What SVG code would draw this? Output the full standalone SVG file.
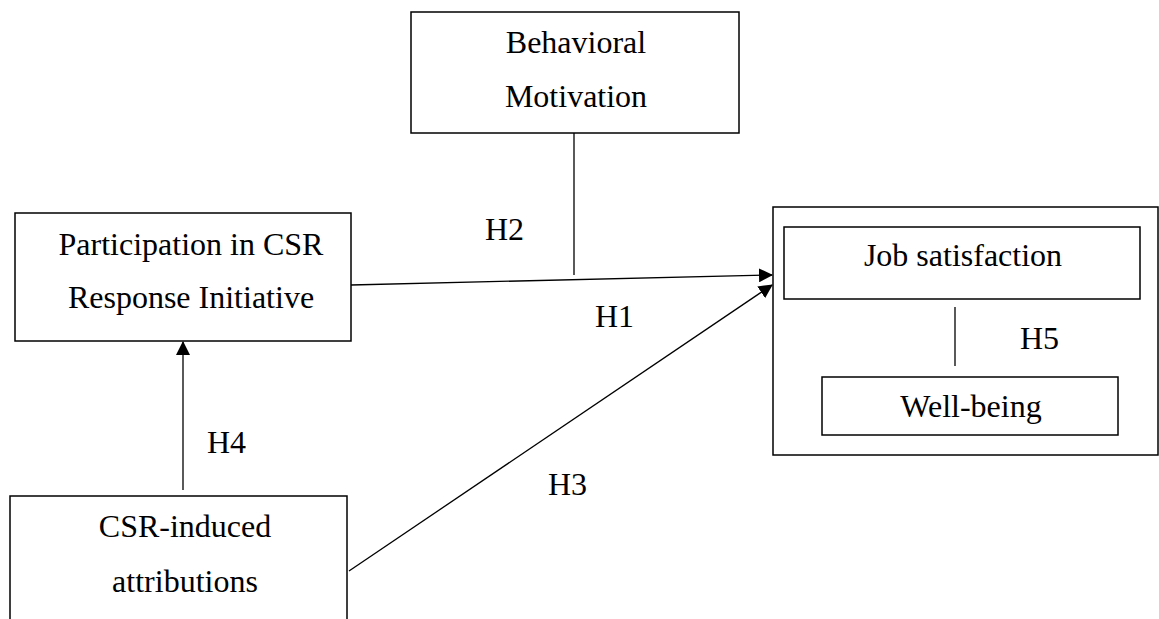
<svg xmlns="http://www.w3.org/2000/svg" width="1159" height="619" viewBox="0 0 1159 619">
<defs>
<marker id="arr" markerWidth="14" markerHeight="14" viewBox="0 0 14 14" refX="13" refY="7" orient="auto" markerUnits="userSpaceOnUse">
<path d="M0,0 L14,7 L0,14 Z" fill="#000"/>
</marker>
<style>
.box{fill:#fff;stroke:#000;stroke-width:1.5}
.t{font-size:32px;fill:#000;text-anchor:middle}
.l{font-size:32px;fill:#000}
.c{stroke:#000;stroke-width:1.3;fill:none}
</style>
</defs>
<rect width="1159" height="619" fill="#fff"/>
<g font-family="Liberation Serif, Times New Roman, DejaVu Serif, serif">
<g id="behavioral-motivation">
<rect class="box" x="411" y="12" width="328" height="121"/>
<text class="t" x="576" y="53">Behavioral</text>
<text class="t" x="576" y="107">Motivation</text>
</g>
<g id="participation">
<rect class="box" x="15" y="213" width="336" height="128"/>
<text class="t" x="191" y="255">Participation in CSR</text>
<text class="t" x="191" y="308">Response Initiative</text>
</g>
<g id="outcomes">
<rect class="box" x="773" y="207" width="385" height="248"/>
</g>
<g id="job-satisfaction">
<rect class="box" x="784" y="227" width="356" height="72"/>
<text class="t" x="963" y="266">Job satisfaction</text>
</g>
<g id="well-being">
<rect class="box" x="822" y="377" width="296" height="58"/>
<text class="t" x="971" y="417">Well-being</text>
</g>
<g id="csr-induced">
<rect class="box" x="10" y="496" width="337" height="140"/>
<text class="t" x="185" y="537">CSR-induced</text>
<text class="t" x="185" y="592">attributions</text>
</g>
<g id="connectors">
<line class="c" x1="574" y1="133" x2="574" y2="275"/>
<line class="c" x1="351" y1="285" x2="772" y2="275" marker-end="url(#arr)"/>
<line class="c" x1="349" y1="571" x2="772" y2="285" marker-end="url(#arr)"/>
<line class="c" x1="183" y1="490" x2="183" y2="342" marker-end="url(#arr)"/>
<line class="c" x1="955" y1="307" x2="955" y2="366"/>
</g>
<g id="labels">
<text class="l" x="485" y="240">H2</text>
<text class="l" x="595" y="327">H1</text>
<text class="l" x="1020" y="349">H5</text>
<text class="l" x="207" y="453">H4</text>
<text class="l" x="548" y="495">H3</text>
</g>
</g>
</svg>
